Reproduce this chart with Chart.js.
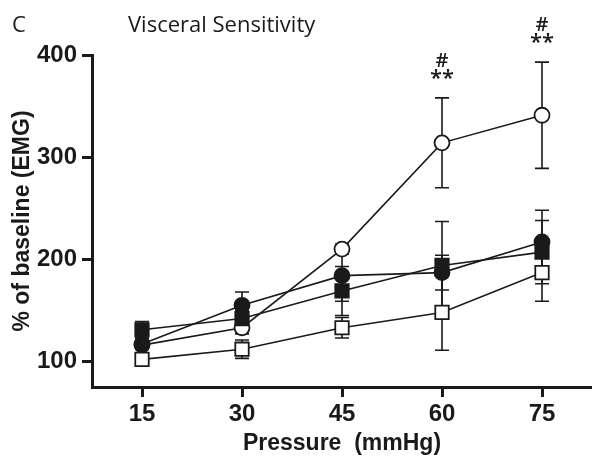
<!DOCTYPE html>
<html>
<head>
<meta charset="utf-8">
<script src="https://cdn.jsdelivr.net/npm/chart.js@4.4.1/dist/chart.umd.min.js"></script>
<style>
  html, body { margin: 0; padding: 0; background: #ffffff; }
  #wrap { width: 592px; height: 465px; position: relative; }
</style>
</head>
<body>
<div id="wrap"><canvas id="chart" width="592" height="465"></canvas></div>
<script>
// Distension pressures (mmHg)
const pressures = ['15', '30', '45', '60', '75'];

// EMG response, % of baseline, with SEM for each group
const openCircleMean   = [116, 133, 210, 314, 341];
const openCircleErr    = [4, 6, 5, 44, 52];
const filledCircleMean = [117, 155, 184, 187, 217];
const filledCircleErr  = [5, 13, 25, 17, 31];
const filledSquareMean = [131, 142, 169, 194, 207];
const filledSquareErr  = [8, 8, 24, 43, 31];
const openSquareMean   = [102, 112, 133, 148, 187];
const openSquareErr    = [5, 9, 10, 37, 28];

// Y axis tick values
const yTicks = [100, 200, 300, 400];

// Significance marks above the open-circle group
const markedPressures = ['60', '75'];
const markLines = ['#', '**'];

const BLACK = '#1a1a1a';

function series(data, err, style, fill, radius) {
  return {
    data: data,
    errors: err,
    borderColor: BLACK,
    borderWidth: 1.6,
    pointStyle: style,
    pointRadius: radius,
    pointHoverRadius: radius,
    pointBackgroundColor: fill,
    pointBorderColor: BLACK,
    pointBorderWidth: 1.8,
    fill: false,
    tension: 0
  };
}

// Vertical SEM bars with caps, drawn under the markers
const errorBars = {
  id: 'errorBars',
  beforeDatasetsDraw(chart) {
    const ctx = chart.ctx;
    const x = chart.scales.x, y = chart.scales.y;
    ctx.save();
    ctx.strokeStyle = BLACK;
    ctx.lineWidth = 1.6;
    chart.data.datasets.forEach(ds => {
      ds.data.forEach((v, i) => {
        const e = ds.errors[i];
        const px = x.getPixelForValue(i);
        const top = y.getPixelForValue(v + e);
        const bot = y.getPixelForValue(v - e);
        ctx.beginPath();
        ctx.moveTo(px, top); ctx.lineTo(px, bot);
        ctx.moveTo(px - 7, top); ctx.lineTo(px + 7, top);
        ctx.moveTo(px - 7, bot); ctx.lineTo(px + 7, bot);
        ctx.stroke();
      });
    });
    ctx.restore();
  }
};

// Panel letter, heading and significance marks
const labels = {
  id: 'labels',
  afterDraw(chart) {
    const ctx = chart.ctx;
    const x = chart.scales.x, y = chart.scales.y;
    ctx.save();
    ctx.fillStyle = BLACK;
    ctx.textBaseline = 'alphabetic';
    ctx.textAlign = 'left';
    ctx.font = '22px "Open Sans"';
    ctx.fillText('C', 12, 32);
    ctx.fillText('Visceral Sensitivity', 128, 32);

    ctx.textAlign = 'center';
    ctx.textBaseline = 'middle';
    markedPressures.forEach(p => {
      const i = pressures.indexOf(p);
      const px = x.getPixelForValue(i);
      const cap = y.getPixelForValue(openCircleMean[i] + openCircleErr[i]);
      ctx.font = '600 22px "Open Sans"';
      ctx.fillText(markLines[1], px, cap - 19);
      ctx.font = '600 20px "Open Sans"';
      ctx.fillText(markLines[0], px, cap - 37);
    });
    ctx.restore();
  }
};

new Chart(document.getElementById('chart'), {
  type: 'line',
  data: {
    labels: pressures,
    datasets: [
      series(openSquareMean, openSquareErr, 'rect', '#ffffff', 9.5),
      series(filledSquareMean, filledSquareErr, 'rect', BLACK, 9.5),
      series(filledCircleMean, filledCircleErr, 'circle', BLACK, 7.5),
      series(openCircleMean, openCircleErr, 'circle', '#ffffff', 7.5)
    ]
  },
  options: {
    responsive: false,
    animation: false,
    devicePixelRatio: 1,
    layout: { autoPadding: false, padding: { top: 55, right: 0, bottom: 0, left: 0 } },
    plugins: {
      legend: { display: false },
      tooltip: { enabled: false },
      title: { display: false }
    },
    scales: {
      x: {
        type: 'category',
        offset: true,
        afterFit(scale) { scale.height = 78; scale.paddingLeft = 0; scale.paddingRight = 0; },
        border: { display: true, color: BLACK, width: 3 },
        grid: { display: true, drawOnChartArea: false, drawTicks: true, tickLength: 10, lineWidth: 3, color: BLACK, offset: false },
        ticks: { color: BLACK, padding: 3, font: { family: '"Liberation Sans", Arial, sans-serif', size: 24, weight: 'bold' } },
        title: { display: true, text: 'Pressure  (mmHg)', color: BLACK, padding: { top: 0, bottom: 8 },
                 font: { family: '"Liberation Sans", Arial, sans-serif', size: 23, weight: 'bold' } }
      },
      y: {
        type: 'linear',
        min: 75,
        max: 400,
        afterFit(scale) { scale.width = 92; scale.paddingTop = 0; scale.paddingBottom = 0; },
        afterBuildTicks(scale) { scale.ticks = yTicks.map(v => ({ value: v })); },
        border: { display: true, color: BLACK, width: 3 },
        grid: { display: true, drawOnChartArea: false, drawTicks: true, tickLength: 10, lineWidth: 3, color: BLACK },
        ticks: { color: BLACK, padding: 5, font: { family: '"Liberation Sans", Arial, sans-serif', size: 24, weight: 'bold' } },
        title: { display: true, text: '% of baseline (EMG)', color: BLACK, padding: { top: 9, bottom: 0 },
                 font: { family: '"Liberation Sans", Arial, sans-serif', size: 23, weight: 'bold' } }
      }
    }
  },
  plugins: [errorBars, labels]
});
</script>
</body>
</html>
